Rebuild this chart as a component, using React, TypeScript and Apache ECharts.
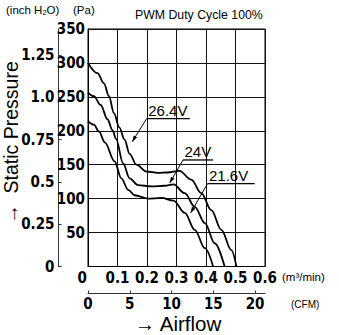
import { useEffect, useRef } from "react";
import * as echarts from "echarts";

// Airflow (m³/min) vs static pressure (Pa)
const curve264: number[][] = [
  [0, 300], [0.032, 285], [0.054, 270], [0.071, 251], [0.088, 226], [0.106, 205],
  [0.124, 187], [0.141, 166], [0.164, 150], [0.198, 140], [0.237, 138], [0.27, 138.5],
  [0.31, 141], [0.35, 128], [0.384, 108], [0.418, 83], [0.452, 54], [0.486, 24], [0.503, 0],
];
const curve24: number[][] = [
  [0, 256], [0.02, 251], [0.043, 238], [0.066, 217], [0.083, 201], [0.095, 188],
  [0.119, 152], [0.141, 130], [0.169, 120], [0.215, 118], [0.26, 119], [0.29, 121],
  [0.328, 108], [0.362, 88], [0.396, 64], [0.43, 34], [0.463, 0],
];
const curve216: number[][] = [
  [0, 214], [0.02, 209], [0.037, 199], [0.057, 183], [0.09, 155], [0.113, 130],
  [0.136, 113], [0.158, 105], [0.203, 100], [0.249, 101], [0.29, 97], [0.328, 79],
  [0.362, 54], [0.396, 27], [0.424, 0],
];
const seriesNames = ["26.4V", "24V", "21.6V"];

// Tick values / labels
const inchTicks = [0, 0.25, 0.5, 0.75, 1.0, 1.25];
const inchLabels = ["0", "0.25", "0.5", "0.75", "1.0", "1.25"];
const cfmTicks = [0, 5, 10, 15, 20];

// Annotation anchors in data units (m³/min, Pa): underline start/end, underline level, arrow tip
const annoText = ["26.4V", "24V", "21.6V"];
const annoLineX0 = [0.199, 0.322, 0.405];
const annoLineX1 = [0.345, 0.424, 0.565];
const annoLineY = [218, 157, 122];
const annoTipX = [0.15, 0.277, 0.348];
const annoTipY = [184, 123, 79];

const PA_PER_INCH = 249.089;
const M3MIN_PER_CFM = 0.0283168;

const LABEL_FONT = '"Liberation Sans Narrow", "DejaVu Sans Condensed", "Liberation Sans", sans-serif';
const TEXT_FONT = '"Liberation Sans", Arial, sans-serif';

export default function App() {
  const ref = useRef<HTMLDivElement>(null);

  useEffect(() => {
    if (!ref.current) return;
    const chart = echarts.init(ref.current, undefined, { renderer: "svg" });

    const labelStyle = {
      color: "#000",
      fontFamily: LABEL_FONT,
      fontWeight: "bold" as const,
      fontSize: 15,
    };

    const staticGraphics: any[] = [
      {
        type: "text",
        left: 6,
        top: 4,
        style: {
          text: "(inch H{s|2}O)",
          fontFamily: TEXT_FONT,
          fontSize: 11.5,
          fill: "#000",
          rich: { s: { fontSize: 7.5, fontFamily: TEXT_FONT, fill: "#000", padding: [4, 0, 0, 0] } },
        },
      },
      {
        type: "text",
        left: 73,
        top: 4,
        style: { text: "(Pa)", fontFamily: TEXT_FONT, fontSize: 11.5, fill: "#000" },
      },
      {
        type: "text",
        left: 135,
        top: 9,
        style: { text: "PWM Duty Cycle 100%", fontFamily: TEXT_FONT, fontSize: 12.3, fill: "#000" },
      },
      {
        type: "text",
        left: 282,
        top: 271,
        style: { text: "(m³/min)", fontFamily: TEXT_FONT, fontSize: 11.5, fill: "#000" },
      },
      {
        type: "text",
        left: 291,
        top: 299,
        style: { text: "(CFM)", fontFamily: TEXT_FONT, fontSize: 10, fill: "#000" },
      },
      {
        type: "text",
        x: 178,
        y: 323,
        style: {
          text: "→ Airflow",
          fontFamily: TEXT_FONT,
          fontSize: 20.5,
          fill: "#000",
          align: "center",
          verticalAlign: "middle",
        },
      },
      {
        type: "text",
        x: 11,
        y: 142.5,
        rotation: Math.PI / 2,
        style: {
          text: "→  Static Pressure",
          fontFamily: TEXT_FONT,
          fontSize: 19.5,
          fill: "#000",
          align: "center",
          verticalAlign: "middle",
        },
      },
    ];

    const option: any = {
      animation: false,
      backgroundColor: "#fff",
      grid: {
        left: 88,
        top: 29,
        width: 177,
        height: 237.5,
        show: true,
        borderColor: "#000",
        borderWidth: 1,
      },
      xAxis: [
        {
          type: "value",
          min: 0,
          max: 0.6,
          interval: 0.1,
          position: "bottom",
          axisLine: { show: true, lineStyle: { color: "#000", width: 1 } },
          axisTick: { show: false },
          splitLine: { show: true, lineStyle: { color: "#111", width: 1 } },
          axisLabel: {
            ...labelStyle,
            margin: 4,
            formatter: (v: number) => (v === 0 ? "{z|0}" : v.toFixed(1)),
            rich: { z: { ...labelStyle, width: 21, align: "left" } },
          },
        },
        {
          type: "value",
          min: 0,
          max: 0.6 / M3MIN_PER_CFM,
          position: "bottom",
          offset: 27,
          axisLine: { show: true, onZero: false, lineStyle: { color: "#333", width: 1 } },
          axisTick: { show: true, inside: true, length: 3, customValues: cfmTicks, lineStyle: { color: "#333" } },
          splitLine: { show: false },
          axisLabel: { ...labelStyle, margin: 3, customValues: cfmTicks },
        },
      ],
      yAxis: [
        {
          type: "value",
          min: 0,
          max: 350,
          interval: 50,
          position: "left",
          axisLine: { show: true, lineStyle: { color: "#000", width: 1 } },
          axisTick: { show: false },
          splitLine: { show: true, lineStyle: { color: "#111", width: 1 } },
          axisLabel: {
            ...labelStyle,
            margin: 3,
            formatter: (v: number) => (v === 0 ? "" : String(v)),
          },
        },
        {
          type: "value",
          min: 0,
          max: 350 / PA_PER_INCH,
          position: "left",
          offset: 29.5,
          axisLine: { show: true, onZero: false, lineStyle: { color: "#333", width: 1 } },
          axisTick: { show: true, inside: true, length: 3, customValues: inchTicks, lineStyle: { color: "#333" } },
          splitLine: { show: false },
          axisLabel: {
            ...labelStyle,
            margin: 4,
            customValues: inchTicks,
            formatter: (v: number) => {
              const i = inchTicks.findIndex((t) => Math.abs(t - v) < 1e-6);
              return i >= 0 ? inchLabels[i] : "";
            },
          },
        },
      ],
      series: [curve264, curve24, curve216].map((d, i) => ({
        name: seriesNames[i],
        type: "line",
        xAxisIndex: 0,
        yAxisIndex: 0,
        data: d,
        symbol: "none",
        smooth: 0.35,
        smoothMonotone: "x",
        lineStyle: { color: "#000", width: 1.8 },
        z: 5,
      })),
      graphic: staticGraphics,
    };

    chart.setOption(option);

    const annoGraphics: any[] = [];
    annoText.forEach((txt, i) => {
      const p0 = chart.convertToPixel({ xAxisIndex: 0, yAxisIndex: 0 }, [annoLineX0[i], annoLineY[i]]) as number[];
      const p1 = chart.convertToPixel({ xAxisIndex: 0, yAxisIndex: 0 }, [annoLineX1[i], annoLineY[i]]) as number[];
      const tip = chart.convertToPixel({ xAxisIndex: 0, yAxisIndex: 0 }, [annoTipX[i], annoTipY[i]]) as number[];
      annoGraphics.push({
        type: "line",
        shape: { x1: p0[0], y1: p0[1], x2: p1[0], y2: p1[1] },
        style: { stroke: "#000", lineWidth: 1.3 },
        z: 10,
      });
      annoGraphics.push({
        type: "line",
        shape: { x1: p0[0], y1: p0[1], x2: tip[0], y2: tip[1] },
        style: { stroke: "#000", lineWidth: 1 },
        z: 10,
      });
      const dx = tip[0] - p0[0];
      const dy = tip[1] - p0[1];
      const len = Math.sqrt(dx * dx + dy * dy) || 1;
      const ux = dx / len;
      const uy = dy / len;
      const hl = 6;
      const hw = 2;
      annoGraphics.push({
        type: "polygon",
        shape: {
          points: [
            [tip[0], tip[1]],
            [tip[0] - hl * ux + hw * uy, tip[1] - hl * uy - hw * ux],
            [tip[0] - hl * ux - hw * uy, tip[1] - hl * uy + hw * ux],
          ],
        },
        style: { fill: "#000" },
        z: 10,
      });
      annoGraphics.push({
        type: "text",
        x: p0[0] + 1.5,
        y: p0[1] - 0.5,
        style: {
          text: txt,
          fontFamily: TEXT_FONT,
          fontSize: 15,
          fill: "#000",
          align: "left",
          verticalAlign: "bottom",
        },
        z: 10,
      });
    });

    chart.setOption({ graphic: [...staticGraphics, ...annoGraphics] });

    return () => {
      chart.dispose();
    };
  }, []);

  return (
    <div
      ref={ref}
      style={{ position: "fixed", left: 0, top: 0, width: 339, height: 335, background: "#fff" }}
    />
  );
}
